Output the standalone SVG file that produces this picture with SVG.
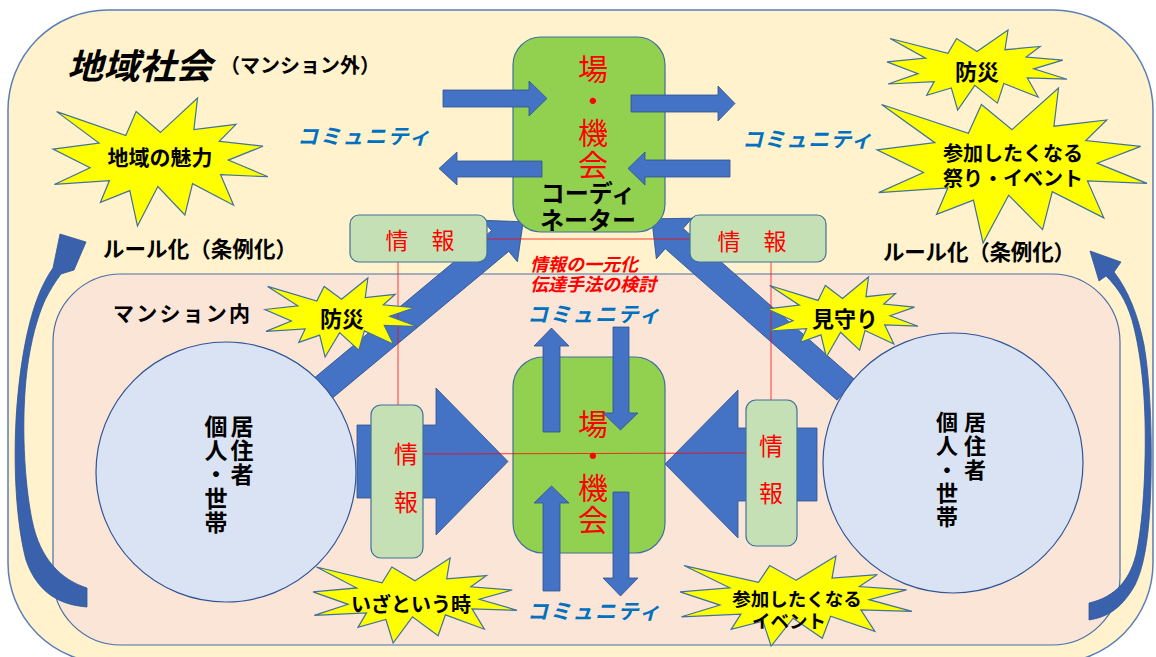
<svg xmlns="http://www.w3.org/2000/svg" xmlns:xlink="http://www.w3.org/1999/xlink" width="1156" height="657" viewBox="0 0 1156 657">
<style>
.outer{fill:#FFF2CC;stroke:#5B7DB8;stroke-width:1.5}
.inner{fill:#FBE5D6;stroke:#4A6FA8;stroke-width:1.2}
.green{fill:#92D050;stroke:#41719C;stroke-width:1.2}
.info{fill:#C5E0B4;stroke:#41719C;stroke-width:1.2}
.circle{fill:#DAE3F3;stroke:#2F5597;stroke-width:1.2}
.arrow{fill:#4472C4;stroke:#2F528F;stroke-width:0.8}
.curve{fill:#3A62AC;stroke:#2F5597;stroke-width:0.8}
.burst{fill:#FFFF00;stroke:#41719C;stroke-width:1.2}
.rl{stroke:#FF0000;stroke-width:1;opacity:0.75;fill:none}
text{font-family:"Noto Sans CJK JP","Noto Sans CJK SC",sans-serif;dominant-baseline:central}
.lbl{fill:#000;font-weight:bold;text-anchor:middle}
.red{fill:#FF0000;text-anchor:middle}
.vt{writing-mode:vertical-rl;text-anchor:start}
.vb{fill:#000;font-weight:bold}
.vr{fill:#FF0000}
.com{fill:#0070C0;font-style:italic;font-weight:bold}
.note{fill:#FF0000;font-style:italic;font-weight:bold;font-size:18px}
</style>
<defs>
<polygon id="burst" class="burst" vector-effect="non-scaling-stroke" points="50,26.85 67.23,0 65.53,24.65 85.09,20.63 77.32,33.87 97.67,37.67 81.51,48.5 100,61.53 77.95,59.92 84,83.77 64.91,66.93 61.33,91.38 48.76,69.14 39.28,100 35.72,72.35 22.05,81.56 26.24,64.52 0.63,67.53 17.23,54.51 0,39.88 21.42,35.26 1.71,10.63 33.85,29.26 38.67,10.63"/>
</defs>

<g id="outer-area">
<rect class="outer" x="8" y="10" width="1145" height="653" rx="100" ry="100"/>
</g>
<g id="inner-area">
<rect class="inner" x="53" y="274" width="1067" height="371" rx="68" ry="68"/>
</g>

<g id="connectors">
<path class="curve" d="M87,588 C62,580 40,560 32,520 C24,480 21,420 27,370 C31,340 37,318 45,300 C50,290 55,282 61,274 L74,270 L86,242 L60,234 L53,268 C46,278 40,290 35,305 C26,332 19,370 16,420 C13,480 18,530 26,560 C38,595 62,605 87,607 Z"/>
<path class="curve" d="M1089,603 C1115,597 1131,580 1137,550 C1144,515 1146,460 1145,420 C1144,380 1139,345 1132,320 C1126,300 1118,288 1106,276 L1099,281 L1090,251 L1121,262 L1114,272 C1128,290 1138,315 1144,345 C1150,380 1152,430 1151,480 C1150,530 1145,565 1135,585 C1122,608 1108,617 1089,620 Z"/>
<polygon class="arrow" points="357,425 436,425 436,388 508,461.5 436,535 436,498 357,498"/>
<polygon class="arrow" points="817,428 738,428 738,390 665,464 738,538 738,501 817,501"/>
<polygon class="arrow" transform="translate(321,390) rotate(-39.75)" points="0,-13.5 233,-13.5 233,-27 263,0 233,27 233,13.5 0,13.5"/>
<polygon class="arrow" transform="translate(846,390) rotate(-138.6)" points="0,-13.5 229,-13.5 229,-27 259,0 229,27 229,13.5 0,13.5"/>
</g>

<g id="node-circle-left">
<circle class="circle" cx="226" cy="472" r="130"/>
<text class="vt vb" font-size="23" letter-spacing="1" x="242" y="415">居住者</text>
<text class="vt vb" font-size="23" letter-spacing="1" x="216" y="415">個人・世帯</text>
</g>
<g id="node-circle-right">
<circle class="circle" cx="953" cy="463" r="130"/>
<text class="vt vb" font-size="22" letter-spacing="1.6" x="975" y="411">居住者</text>
<text class="vt vb" font-size="22" letter-spacing="1.6" x="947" y="411">個人・世帯</text>
</g>

<g id="node-place-top">
<rect class="green" x="513" y="37" width="152" height="195" rx="28" ry="28"/>
<text class="vt vr" font-size="30" letter-spacing="2" x="593" y="54">場・機会</text>
<text class="lbl" font-size="24"><tspan x="588" y="191">コーディ</tspan><tspan x="588" y="218">ネーター</tspan></text>
</g>
<g id="top-arrows">
<polygon class="arrow" points="443,90 529,90 529,81 547,98.5 529,116 529,107 443,107"/>
<polygon class="arrow" points="542,161 457,161 457,152 439,168.5 457,185 457,177 542,177"/>
<polygon class="arrow" points="631,95 718,95 718,86 735,103.5 718,121 718,112 631,112"/>
<polygon class="arrow" points="730,160 645,160 645,152 628,168.5 645,185 645,177 730,177"/>
</g>

<g id="node-place-bottom">
<rect class="green" x="513" y="357" width="152" height="196" rx="30" ry="30"/>
<text class="vt vr" font-size="30" letter-spacing="2" x="593" y="409">場・機会</text>
</g>
<g id="vertical-arrows">
<polygon class="arrow" points="543,432 543,346 534,346 551.5,328 569,346 560,346 560,432"/>
<polygon class="arrow" points="613,327 629,327 629,413 638,413 620.5,430 603,413 613,413"/>
<polygon class="arrow" points="543,591 543,503 534,503 551.5,486 569,503 560,503 560,591"/>
<polygon class="arrow" points="613,492 629,492 629,578 638,578 620.5,596 603,578 613,578"/>
</g>

<g id="info-lines">
<line class="rl" x1="487" y1="239" x2="690" y2="239"/>
<line class="rl" x1="398" y1="262" x2="398" y2="405"/>
<line class="rl" x1="771" y1="262" x2="771" y2="400"/>
<line class="rl" x1="423" y1="454" x2="746" y2="453"/>
</g>

<g id="node-info-top-left">
<rect class="info" x="350" y="215" width="137" height="47" rx="9" ry="9"/>
<text class="red" font-size="23" x="420" y="239">情　報</text>
</g>
<g id="node-info-top-right">
<rect class="info" x="690" y="215" width="136" height="47" rx="9" ry="9"/>
<text class="red" font-size="23" x="752" y="240">情　報</text>
</g>
<g id="node-info-left">
<rect class="info" x="371" y="405" width="52" height="153" rx="10" ry="10"/>
<text class="vt vr" font-size="24" letter-spacing="24" x="406" y="442">情報</text>
</g>
<g id="node-info-right">
<rect class="info" x="746" y="400" width="51" height="146" rx="10" ry="10"/>
<text class="vt vr" font-size="24" letter-spacing="23" x="771" y="434">情報</text>
</g>

<g id="node-charm">
<use xlink:href="#burst" href="#burst" transform="translate(53,98) scale(2.15,1.28)"/>
<text class="lbl" font-size="21" x="160" y="156">地域の魅力</text>
</g>
<g id="node-bousai-top">
<use xlink:href="#burst" href="#burst" transform="translate(887,30) scale(1.8,0.8)"/>
<text class="lbl" font-size="22" x="977" y="70">防災</text>
</g>
<g id="node-festival">
<use xlink:href="#burst" href="#burst" transform="translate(877,88) scale(2.7,1.55)"/>
<text class="lbl" font-size="20"><tspan x="1013" y="152">参加したくなる</tspan><tspan x="1013" y="177">祭り・イベント</tspan></text>
</g>
<g id="node-bousai-inner">
<use xlink:href="#burst" href="#burst" transform="translate(265,278) scale(1.53,0.79)"/>
<text class="lbl" font-size="22" x="342" y="317">防災</text>
</g>
<g id="node-mimamori">
<use xlink:href="#burst" href="#burst" transform="translate(767,277) scale(1.51,0.8)"/>
<text class="lbl" font-size="22" x="845" y="317">見守り</text>
</g>
<g id="node-emergency">
<use xlink:href="#burst" href="#burst" transform="translate(313,558) scale(2.04,0.85)"/>
<text class="lbl" font-size="20" x="411" y="603">いざという時</text>
</g>
<g id="node-event">
<use xlink:href="#burst" href="#burst" transform="translate(680,556) scale(2.32,0.9)"/>
<text class="lbl" font-size="18.5"><tspan x="797" y="598">参加したくなる</tspan><tspan x="789" y="620">イベント</tspan></text>
</g>

<g id="labels">
<text x="67" y="63" font-size="35" font-weight="bold" font-style="italic" fill="#000" textLength="145" lengthAdjust="spacingAndGlyphs">地域社会</text>
<text x="220" y="64" font-size="20" font-weight="bold" fill="#000" textLength="160">（マンション外）</text>
<text x="103" y="247" font-size="21.5" font-weight="bold" fill="#000" textLength="194">ルール化（条例化）</text>
<text x="883" y="250" font-size="21.5" font-weight="bold" fill="#000" textLength="192">ルール化（条例化）</text>
<text x="113" y="312" font-size="21" font-weight="bold" fill="#000" textLength="137">マンション内</text>
<text class="com" x="297" y="135" font-size="21" textLength="133">コミュニティ</text>
<text class="com" x="742" y="138" font-size="21" textLength="130">コミュニティ</text>
<text class="com" x="527" y="313" font-size="21" textLength="133">コミュニティ</text>
<text class="com" x="527" y="610" font-size="21" textLength="133">コミュニティ</text>
<text class="note"><tspan x="530" y="263">情報の一元化</tspan><tspan x="530" y="283">伝達手法の検討</tspan></text>
</g>
</svg>
